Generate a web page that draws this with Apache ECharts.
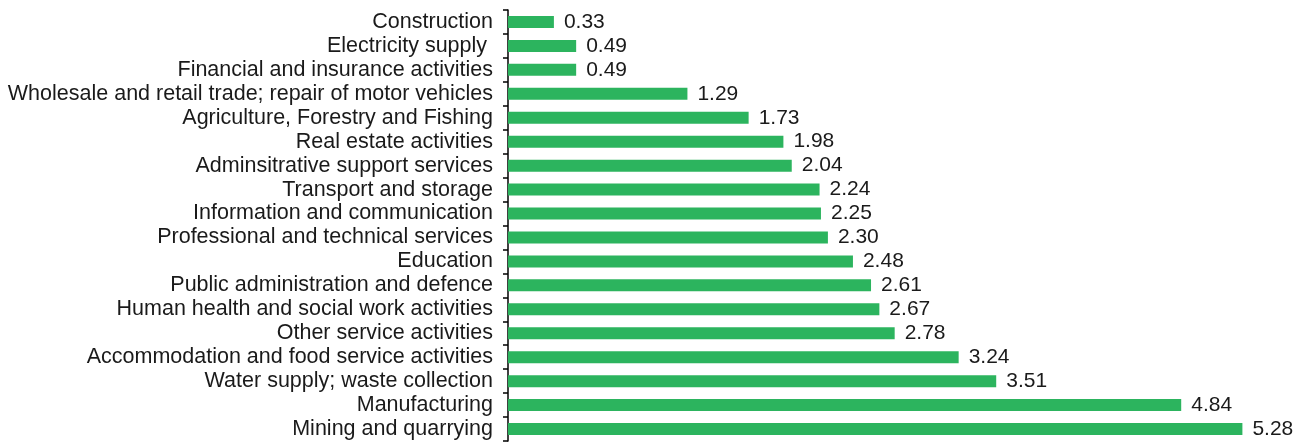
<!DOCTYPE html>
<html>
<head>
<meta charset="utf-8">
<script src="https://cdn.jsdelivr.net/npm/echarts@6/dist/echarts.min.js"></script>
<style>
  html, body { margin: 0; padding: 0; background: #fff; }
  #chart { width: 1299px; height: 445px; }
</style>
</head>
<body>
<div id="chart"></div>
<script>
const categories = [
  "Construction",
  "Electricity supply ",
  "Financial and insurance activities",
  "Wholesale and retail trade; repair of motor vehicles",
  "Agriculture, Forestry and Fishing",
  "Real estate activities",
  "Adminsitrative support services",
  "Transport and storage",
  "Information and communication",
  "Professional and technical services",
  "Education",
  "Public administration and defence",
  "Human health and social work activities",
  "Other service activities",
  "Accommodation and food service activities",
  "Water supply; waste collection",
  "Manufacturing",
  "Mining and quarrying"
];
const values = [0.33, 0.49, 0.49, 1.29, 1.73, 1.98, 2.04, 2.24, 2.25, 2.30, 2.48, 2.61, 2.67, 2.78, 3.24, 3.51, 4.84, 5.28];

const chart = echarts.init(document.getElementById("chart"));

chart.setOption({
  animation: false,
  grid: { left: 508, right: 26, top: 10, bottom: 4 },
  xAxis: {
    type: "value",
    min: 0,
    max: 5.5,
    show: false
  },
  yAxis: {
    type: "category",
    data: categories,
    inverse: true,
    axisLine: { show: true, lineStyle: { color: "#000", width: 1.5 } },
    axisTick: { show: true, length: 5, lineStyle: { color: "#000", width: 1.5 } },
    axisLabel: {
      interval: 0,
      hideOverlap: false,
      color: "#1a1a1a",
      fontFamily: "Liberation Sans",
      fontSize: 21.5,
      lineHeight: 22,
      margin: 15
    }
  },
  series: [
    {
      type: "bar",
      data: values,
      barWidth: 12,
      itemStyle: { color: "#2cb45e" },
      label: {
        show: true,
        position: "right",
        distance: 10,
        color: "#1a1a1a",
        fontFamily: "Liberation Sans",
        fontSize: 21,
        formatter: (p) => p.value.toFixed(2)
      }
    }
  ]
});
</script>
</body>
</html>
